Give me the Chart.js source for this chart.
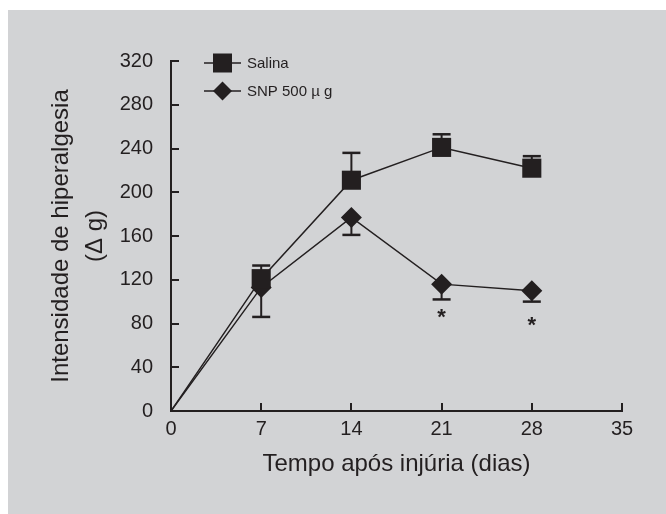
<!DOCTYPE html>
<html>
<head>
<meta charset="utf-8">
<script src="https://cdn.jsdelivr.net/npm/chart.js@4"></script>
<style>
  html, body { margin: 0; padding: 0; background: #ffffff; }
  #wrap { width: 666px; height: 514px; }
</style>
</head>
<body>
<div id="wrap"><canvas id="chart" width="666" height="514"></canvas></div>
<script>
var days = [0, 7, 14, 21, 28];
var salina = [0, 121, 211, 241, 222];
var salinaErr = [0, 12, 25, 12, 11];
var snp = [0, 113, 177, 116, 110];
var snpErr = [0, 27, 16, 14, 10];
// height (in g) where the significance asterisk sits, null = none
var snpStar = [null, null, null, 90, 82];
var seriesNames = ["Salina", "SNP 500 \u00b5 g"];

var ink = "#231f20";

function toPoints(xs, ys) {
  return xs.map(function (x, i) {
    return { x: x, y: ys[i] };
  });
}

// error bars, asterisks, inward ticks and legend
var extras = {
  id: "extras",
  beforeDraw: function (chart) {
    var ctx = chart.ctx;
    ctx.save();
    ctx.fillStyle = "#d2d3d5";
    ctx.fillRect(8, 10, chart.width - 8, chart.height - 10);
    ctx.restore();
  },
  beforeDatasetsDraw: function (chart) {
    var ctx = chart.ctx;
    var xs = chart.scales.x;
    var ys = chart.scales.y;
    ctx.save();
    ctx.strokeStyle = ink;
    ctx.lineWidth = 2;
    // inward ticks
    xs.ticks.forEach(function (t) {
      if (t.value === 0) return;
      var px = Math.round(xs.getPixelForValue(t.value));
      ctx.beginPath();
      ctx.moveTo(px, ys.bottom);
      ctx.lineTo(px, ys.bottom - 8);
      ctx.stroke();
    });
    ys.ticks.forEach(function (t) {
      if (t.value === 0) return;
      var py = Math.round(ys.getPixelForValue(t.value));
      ctx.beginPath();
      ctx.moveTo(xs.left, py);
      ctx.lineTo(xs.left + 8, py);
      ctx.stroke();
    });
    // error bars
    function bar(x, y0, y1) {
      var px = xs.getPixelForValue(x);
      var p0 = ys.getPixelForValue(y0);
      var p1 = ys.getPixelForValue(y1);
      ctx.lineWidth = 2;
      ctx.beginPath();
      ctx.moveTo(px, p0);
      ctx.lineTo(px, p1);
      ctx.stroke();
      ctx.lineWidth = 2.5;
      ctx.beginPath();
      ctx.moveTo(px - 9, p1);
      ctx.lineTo(px + 9, p1);
      ctx.stroke();
    }
    days.forEach(function (d, i) {
      if (salinaErr[i]) bar(d, salina[i], salina[i] + salinaErr[i]);
      if (snpErr[i]) bar(d, snp[i], snp[i] - snpErr[i]);
    });
    ctx.restore();
  },
  afterDraw: function (chart) {
    var ctx = chart.ctx;
    var xs = chart.scales.x;
    var ys = chart.scales.y;
    ctx.save();
    ctx.fillStyle = ink;
    ctx.font = "bold 22px 'Liberation Sans', Arial, sans-serif";
    ctx.textAlign = "center";
    ctx.textBaseline = "middle";
    days.forEach(function (d, i) {
      if (snpStar[i] === null) return;
      var px = xs.getPixelForValue(d);
      var py = ys.getPixelForValue(snpStar[i]);
      ctx.fillText("*", px, py + 5);
    });

    // legend
    var rows = [
      { y: 63, ds: chart.data.datasets[0] },
      { y: 91, ds: chart.data.datasets[1] }
    ];
    ctx.font = "15px 'Liberation Sans', Arial, sans-serif";
    ctx.textAlign = "left";
    rows.forEach(function (r) {
      ctx.strokeStyle = ink;
      ctx.lineWidth = 1.5;
      ctx.beginPath();
      ctx.moveTo(204, r.y);
      ctx.lineTo(241, r.y);
      ctx.stroke();
      ctx.beginPath();
      if (r.ds.pointStyle === "rect") {
        ctx.rect(213, r.y - 9.5, 19, 19);
      } else {
        ctx.moveTo(213, r.y);
        ctx.lineTo(222.5, r.y - 9.5);
        ctx.lineTo(232, r.y);
        ctx.lineTo(222.5, r.y + 9.5);
        ctx.closePath();
      }
      ctx.fill();
      ctx.fillText(r.ds.label, 247, r.y + 1);
    });
    ctx.restore();
  }
};

var config = {
  type: "line",
  data: {
    datasets: [
      {
        label: seriesNames[0],
        data: toPoints(days, salina),
        borderColor: ink,
        backgroundColor: ink,
        borderWidth: 1.5,
        pointStyle: "rect",
        pointRadius: days.map(function (d) { return d === 0 ? 0 : 13.5; }),
        pointBorderWidth: 0,
        tension: 0
      },
      {
        label: seriesNames[1],
        data: toPoints(days, snp),
        borderColor: ink,
        backgroundColor: ink,
        borderWidth: 1.5,
        pointStyle: "rectRot",
        pointRadius: days.map(function (d) { return d === 0 ? 0 : 10.5; }),
        pointBorderWidth: 0,
        tension: 0
      }
    ]
  },
  options: {
    responsive: false,
    animation: false,
    layout: {
      padding: { left: 0, right: 44, top: 61, bottom: 0 }
    },
    plugins: {
      legend: { display: false },
      tooltip: { enabled: false }
    },
    scales: {
      x: {
        type: "linear",
        min: 0,
        max: 35,
        afterFit: function (scale) { scale.height = 103; },
        afterBuildTicks: function (scale) {
          scale.ticks = [0, 7, 14, 21, 28, 35].map(function (v) { return { value: v }; });
        },
        grid: { display: false, drawTicks: false },
        border: { display: true, color: ink, width: 2 },
        ticks: {
          color: ink,
          padding: 6,
          maxRotation: 0,
          font: { family: "'Liberation Sans', Arial, sans-serif", size: 20 }
        },
        title: {
          display: true,
          text: "Tempo ap\u00f3s inj\u00faria (dias)",
          color: ink,
          padding: { top: 0, bottom: 35 },
          font: { family: "'Liberation Sans', Arial, sans-serif", size: 24 }
        }
      },
      y: {
        min: 0,
        max: 320,
        afterFit: function (scale) { scale.width = 171; },
        ticks: {
          stepSize: 40,
          color: ink,
          padding: 18,
          font: { family: "'Liberation Sans', Arial, sans-serif", size: 20 }
        },
        grid: { display: false, drawTicks: false },
        border: { display: true, color: ink, width: 2 },
        title: {
          display: true,
          text: ["Intensidade de hiperalgesia", "(\u0394 g)"],
          color: ink,
          padding: { top: 45, bottom: 0 },
          font: { family: "'Liberation Sans', Arial, sans-serif", size: 24, lineHeight: 1.4 }
        }
      }
    }
  },
  plugins: [extras]
};

var ctxOne = document.getElementById("chart").getContext("2d");
new Chart(ctxOne, config);
</script>
</body>
</html>
